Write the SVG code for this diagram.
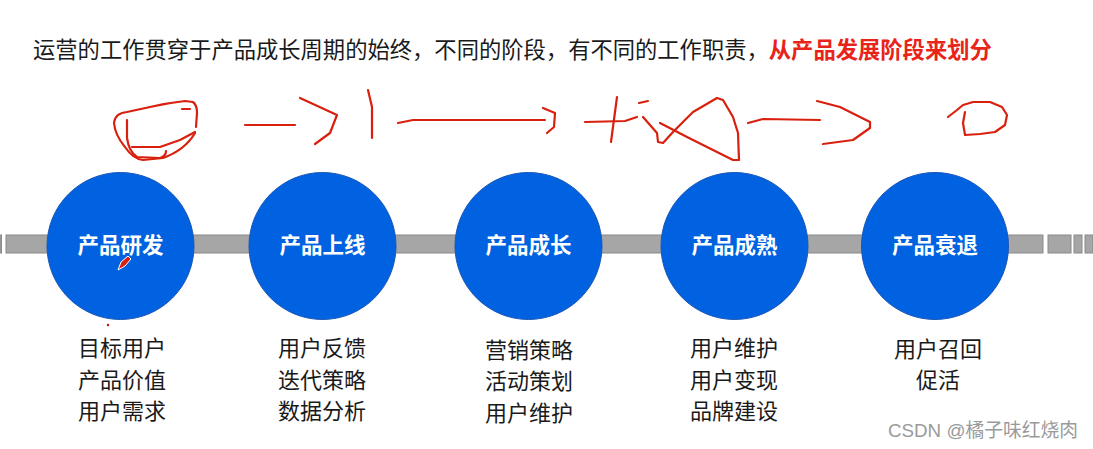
<svg xmlns="http://www.w3.org/2000/svg" width="1093" height="449" viewBox="0 0 1093 449">
<style>
.title{font-family:"Noto Sans CJK SC","Noto Sans",sans-serif;font-size:22.3px;fill:#1a1a1a}
.red{fill:#e8231a;font-weight:bold}
.stage{fill:#0062e0;stroke:#1a56b8;stroke-width:1}
.label{font-family:"Noto Sans CJK SC",sans-serif;font-size:21.5px;font-weight:bold;fill:#ffffff;text-anchor:middle}
.item{font-family:"Noto Sans CJK SC",sans-serif;font-size:22px;fill:#1a1a1a;text-anchor:middle}
.bar{fill:#a6a6a6;stroke:#8a8a8a;stroke-width:1}
.ink{fill:none;stroke:#d9200e;stroke-width:2.2;stroke-linecap:round;stroke-linejoin:round}
.wm{font-family:"Liberation Sans","Noto Sans CJK SC",sans-serif;font-size:19px;fill:#9a9a9a}
</style>
<rect width="1093" height="449" fill="#ffffff"/>
<text class="title" x="33" y="58">运营的工作贯穿于产品成长周期的始终，不同的阶段，有不同的工作职责，<tspan class="red">从产品发展阶段来划分</tspan></text>
<g id="ink">
<path class="ink" d="M195,133 Q185,150 163,158 L143,160 Q133,159 125,147 Q115,135 114,123 Q115,113 127,112 L150,107 Q167,103 185,101 L193,102 Q197,105 197,113 L196,127"/>
<path class="ink" d="M127,120 L127,138 Q129,152 137,157 L160,158 Q166,156 166,151"/>
<path class="ink" d="M132,147 L160,147 L180,140 L195,132"/>
<path class="ink" d="M182,109 L190,109"/>
<path class="ink" d="M245,125 L295,125"/>
<path class="ink" d="M300,98 L337,115 L330,133 L315,144"/>
<path class="ink" d="M368,90 L372,107 L372,138"/>
<path class="ink" d="M398,123 L413,120 L545,120"/>
<path class="ink" d="M543,108 L555,113 L554,127 L547,133"/>
<path class="ink" d="M617,97 L611,142"/>
<path class="ink" d="M585,122 L625,121 L637,117"/>
<path class="ink" d="M639,103 L648,101"/>
<path class="ink" d="M643,117 L657,133 L658,142 L663,143 L673,132 L693,112 L717,98 L723,100 L733,117 L738,133 L739,160 L733,160 L713,150 L687,137 L660,123"/>
<path class="ink" d="M748,123 L763,119 L820,120"/>
<path class="ink" d="M817,101 L840,107 L870,122 L870,128 L853,140 L823,144"/>
<path class="ink" d="M948,117 L957,110 L963,105 L973,102 L990,102 L1002,107 L1007,115 L1005,125 L995,132 L980,134 L965,135 L963,123 L965,112"/>
</g>
<g id="connectors">
<rect class="bar" x="0" y="235" width="1.5" height="18"/>
<rect class="bar" x="6" y="235" width="44" height="18"/>
<rect class="bar" x="192" y="235" width="60" height="18"/>
<rect class="bar" x="393" y="235" width="66" height="18"/>
<rect class="bar" x="598" y="235" width="66" height="18"/>
<rect class="bar" x="805" y="235" width="60" height="18"/>
<rect class="bar" x="1005" y="235" width="38" height="18"/>
<rect class="bar" x="1048" y="235" width="23" height="18"/>
<rect class="bar" x="1074" y="235" width="8" height="18"/>
<rect class="bar" x="1085" y="235" width="8" height="18"/>
</g>
<g id="stage1">
<circle class="stage" cx="120.5" cy="246" r="73.5"/>
<text class="label" x="120.5" y="253">产品研发</text>
<text class="item" x="122" y="356">目标用户</text>
<text class="item" x="122" y="388">产品价值</text>
<text class="item" x="122" y="419">用户需求</text>
</g>
<g id="stage2">
<circle class="stage" cx="322.5" cy="246" r="73.5"/>
<text class="label" x="322.5" y="253">产品上线</text>
<text class="item" x="322" y="356">用户反馈</text>
<text class="item" x="322" y="388">迭代策略</text>
<text class="item" x="322" y="419">数据分析</text>
</g>
<g id="stage3">
<circle class="stage" cx="528.5" cy="246" r="73.5"/>
<text class="label" x="528.5" y="253">产品成长</text>
<text class="item" x="529" y="358">营销策略</text>
<text class="item" x="529" y="389">活动策划</text>
<text class="item" x="529" y="421">用户维护</text>
</g>
<g id="stage4">
<circle class="stage" cx="734.5" cy="246" r="73.5"/>
<text class="label" x="734.5" y="253">产品成熟</text>
<text class="item" x="734" y="356">用户维护</text>
<text class="item" x="734" y="388">用户变现</text>
<text class="item" x="734" y="419">品牌建设</text>
</g>
<g id="stage5">
<circle class="stage" cx="935" cy="246" r="73.5"/>
<text class="label" x="935" y="253">产品衰退</text>
<text class="item" x="938" y="357">用户召回</text>
<text class="item" x="938" y="388">促活</text>
</g>
<g id="cursor">
<path d="M118,270 L121,262 L128,256 L131,259 L125,266 Z" fill="#d9200e" stroke="#ffffff" stroke-width="1"/>
<circle cx="108" cy="325" r="1.2" fill="#c0140a"/>
</g>
<text class="wm" x="888" y="437" textLength="190" lengthAdjust="spacingAndGlyphs">CSDN @橘子味红烧肉</text>
</svg>
